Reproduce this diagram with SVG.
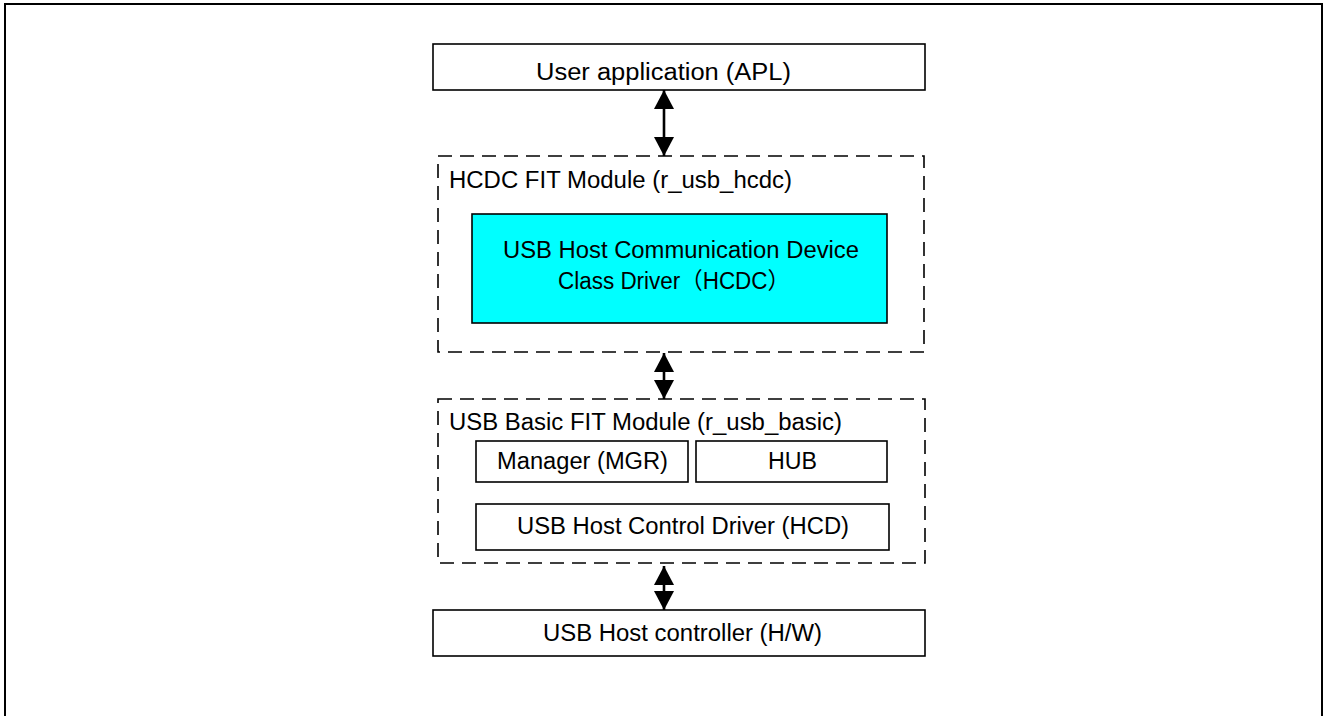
<svg xmlns="http://www.w3.org/2000/svg" width="1324" height="716" viewBox="0 0 1324 716">
<style>
.box{fill:#fff;stroke:#000;stroke-width:1.6}
.dash{fill:none;stroke:#000;stroke-width:1.6;stroke-dasharray:14 8}
.cyan{fill:#00ffff;stroke:#000;stroke-width:1.6}
.t{font-family:"Liberation Sans","Noto Sans CJK JP",Arial,sans-serif;font-size:23px;fill:#000}
.conn{stroke:#000;stroke-width:2.6;fill:none}
</style>
<defs>
<marker id="ah" markerUnits="userSpaceOnUse" markerWidth="20" markerHeight="20" viewBox="0 0 19 20" refX="19" refY="10" orient="auto-start-reverse">
<path d="M0,0 L19,10 L0,20 z" fill="#000"/>
</marker>
</defs>
<rect x="5" y="4" width="1317" height="720" fill="#fff" stroke="#000" stroke-width="2"/>
<g id="apl">
<rect class="box" x="433" y="44" width="492" height="46"/>
<text class="t" x="536" y="80" textLength="255" lengthAdjust="spacingAndGlyphs">User application (APL)</text>
</g>
<g id="hcdc-module">
<rect class="dash" x="438" y="156" width="486" height="196"/>
<text class="t" x="449" y="188" textLength="343" lengthAdjust="spacingAndGlyphs">HCDC FIT Module (r_usb_hcdc)</text>
</g>
<g id="hcdc-driver">
<rect class="cyan" x="472" y="214" width="415" height="109"/>
<text class="t" x="503" y="258" textLength="356" lengthAdjust="spacingAndGlyphs">USB Host Communication Device</text>
<text class="t" x="558" y="289" textLength="232" lengthAdjust="spacingAndGlyphs">Class Driver（HCDC）</text>
</g>
<g id="basic-module">
<rect class="dash" x="438" y="399" width="487" height="164"/>
<text class="t" x="449" y="430" textLength="393" lengthAdjust="spacingAndGlyphs">USB Basic FIT Module (r_usb_basic)</text>
</g>
<g id="mgr">
<rect class="box" x="476" y="441" width="212" height="41"/>
<text class="t" x="497" y="469" textLength="171" lengthAdjust="spacingAndGlyphs">Manager (MGR)</text>
</g>
<g id="hub">
<rect class="box" x="696" y="441" width="191" height="41"/>
<text class="t" x="768" y="469" textLength="49" lengthAdjust="spacingAndGlyphs">HUB</text>
</g>
<g id="hcd">
<rect class="box" x="476" y="504" width="413" height="46"/>
<text class="t" x="517" y="534" textLength="332" lengthAdjust="spacingAndGlyphs">USB Host Control Driver (HCD)</text>
</g>
<g id="hw">
<rect class="box" x="433" y="610" width="492" height="46"/>
<text class="t" x="543" y="641" textLength="279" lengthAdjust="spacingAndGlyphs">USB Host controller (H/W)</text>
</g>
<g id="connectors">
<line class="conn" x1="664" y1="90" x2="664" y2="156" marker-start="url(#ah)" marker-end="url(#ah)"/>
<line class="conn" x1="664" y1="353" x2="664" y2="399" marker-start="url(#ah)" marker-end="url(#ah)"/>
<line class="conn" x1="664" y1="566" x2="664" y2="610" marker-start="url(#ah)" marker-end="url(#ah)"/>
</g>
</svg>
